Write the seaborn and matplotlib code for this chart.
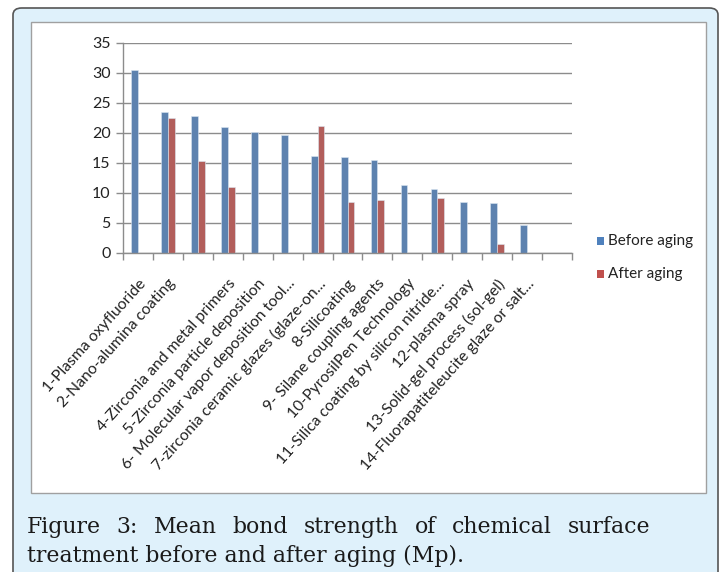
import matplotlib
matplotlib.use("Agg")
import matplotlib.pyplot as plt
from matplotlib.patches import FancyBboxPatch, Rectangle
import seaborn as sns
import pandas as pd
import numpy as np

# Data
labels = ["1-Plasma oxyfluoride", "2-Nano-alumina coating", "",
          "4-Zirconia and metal primers", "5-Zirconia particle deposition",
          "6- Molecular vapor deposition tool...", "7-zirconia ceramic glazes (glaze-on...",
          "8-Silicoating", "9- Silane coupling agents", "10-PyrosilPen Technology",
          "11-Silica coating by silicon nitride...", "12-plasma spray",
          "13-Solid-gel process (sol-gel)", "14-Fluorapatiteleucite glaze or salt...", ""]
before = [30.5, 23.5, 22.8, 21.0, 20.2, 19.7, 16.2, 16.0, 15.5, 11.3, 10.7, 8.5, 8.4, 4.7, np.nan]
after = [np.nan, 22.5, 15.3, 11.0, np.nan, np.nan, 21.2, 8.5, 8.9, np.nan, 9.2, np.nan, 1.5, np.nan, np.nan]

keys = [f"c{i}" for i in range(len(labels))]
df = pd.DataFrame({"key": keys * 2,
                   "value": before + after,
                   "series": ["Before aging"] * len(keys) + ["After aging"] * len(keys)})

sns.set_theme(style="white")
plt.rcParams["font.family"] = ["Lato", "DejaVu Sans"]

W, H = 727, 572
fig = plt.figure(figsize=(W / 100, H / 100), dpi=100)

# outer light blue box and inner white chart box
fig.patches.append(FancyBboxPatch((13 / W, -0.05), (718 - 13) / W, 1 - 8 / H + 0.05,
                                  boxstyle="round,pad=0,rounding_size=0.012",
                                  transform=fig.transFigure, facecolor="#dff1fb",
                                  edgecolor="#555555", linewidth=1.2, zorder=0))
fig.patches.append(Rectangle((31 / W, 1 - 493 / H), (706 - 31) / W, (493 - 22) / H,
                             transform=fig.transFigure, facecolor="white",
                             edgecolor="#a0a0a0", linewidth=1.0, zorder=1))

ax = fig.add_axes([123 / W, 1 - 253 / H, (572 - 123) / W, (253 - 42.7) / H])
ax.set_zorder(2)
ax.patch.set_alpha(0)

sns.barplot(data=df, x="key", y="value", hue="series", order=keys,
            hue_order=["Before aging", "After aging"],
            palette=["#4f81bd", "#c0504d"], width=0.45, ax=ax,
            edgecolor="#dbe6f2", linewidth=0.4, legend=False)

ax.set_ylim(0, 35)
ax.set_xlim(-0.5, len(keys) - 0.5)
ax.set_yticks(range(0, 36, 5))
ax.yaxis.grid(True, color="#8c8c8c", linewidth=1.0)
ax.set_axisbelow(True)
for s in ["top", "right"]:
    ax.spines[s].set_visible(False)
for s in ["left", "bottom"]:
    ax.spines[s].set_color("#8c8c8c")
    ax.spines[s].set_linewidth(1.0)

ax.set_xticks(range(len(keys)))
ticklabels = ax.set_xticklabels(labels, rotation=48, ha="right", rotation_mode="anchor",
                                fontsize=12, color="#222222")
ax.set_xticks(np.arange(-0.5, len(keys), 1), minor=True)
ax.tick_params(axis="x", which="major", length=0, pad=17)
ax.tick_params(axis="x", which="minor", length=5, color="#8c8c8c", width=1.0, bottom=True)
ax.tick_params(axis="y", length=5, color="#8c8c8c", width=1.0, left=True, labelsize=11.5,
               pad=4, labelcolor="#222222")
ax.set_xlabel("")
ax.set_ylabel("")

# legend
for yy, name, col in [(241, "Before aging", "#4f81bd"), (274, "After aging", "#c0504d")]:
    fig.patches.append(Rectangle((597 / W, 1 - (yy + 4) / H), 7 / W, 8 / H,
                                 transform=fig.transFigure, facecolor=col,
                                 edgecolor="none", zorder=3))
    fig.text(608 / W, 1 - yy / H, name, fontsize=11, va="center", ha="left",
             color="#222222", zorder=3)

# scale category label size so the longest label spans ~250 px like the picture
fig.canvas.draw()
r = fig.canvas.get_renderer()
probe = fig.text(0, 0, labels[13], fontsize=12)
lw = probe.get_window_extent(r).width
probe.remove()
for t in ax.get_xticklabels():
    t.set_fontsize(12 * 250 / lw)

# caption: size chosen so the second line ends where it does in the picture
cap_family = ["DejaVu Serif"]
line2 = fig.text(27 / W, 1 - 562 / H, "treatment before and after aging (Mp).",
                 ha="left", va="baseline", family=cap_family, fontsize=16, color="#1a1a1a")
fig.canvas.draw()
fs = 16 * (465 - 27) / line2.get_window_extent(r).width
line2.set_fontsize(fs)

words = "Figure 3: Mean bond strength of chemical surface".split()
texts = [fig.text(0, 1 - 533 / H, w, ha="left", va="baseline", family=cap_family,
                  fontsize=fs, color="#1a1a1a") for w in words]
fig.canvas.draw()
widths = [t.get_window_extent(r).width for t in texts]
x0, x1 = 27, 650
gap = (x1 - x0 - sum(widths)) / (len(words) - 1)
x = x0
for t, wd in zip(texts, widths):
    t.set_x(x / W)
    x += wd + gap

fig.savefig("out.png", dpi=100)
